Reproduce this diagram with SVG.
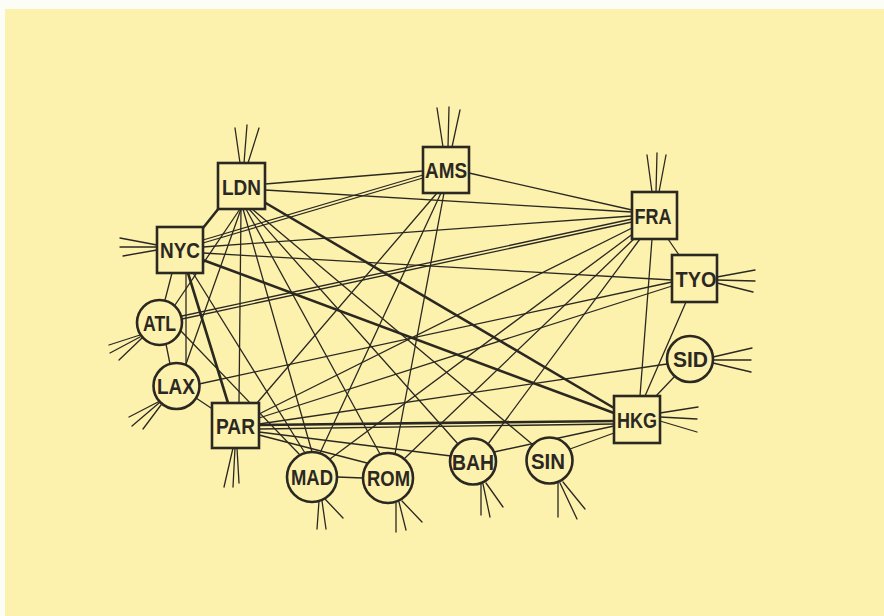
<svg xmlns="http://www.w3.org/2000/svg" width="884" height="616" viewBox="0 0 884 616">
<style>
.e{stroke:#2b2822;stroke-width:1.3;fill:none;stroke-linecap:round}
.t{stroke:#2b2822;stroke-width:2.6;fill:none;stroke-linecap:round}
.s{stroke:#2b2822;stroke-width:1.3;fill:none;stroke-linecap:round}
.n{fill:#fcf1ad;stroke:#2b2822;stroke-width:2.6}
.l{font-family:"Liberation Sans",Arial,Helvetica,sans-serif;font-weight:bold;font-size:22px;fill:#2b2822;text-anchor:middle}
</style>
<rect x="0" y="0" width="884" height="616" fill="#fdfdf8"/>
<rect x="5" y="9" width="879" height="607" fill="#fcf1ad"/>
<g id="connectors">
<line class="e" x1="265" y1="184" x2="423" y2="171"/>
<line class="e" x1="265" y1="190" x2="632" y2="212"/>
<line class="t" x1="219" y1="208" x2="203" y2="228"/>
<line class="e" x1="240" y1="209" x2="175" y2="305"/>
<line class="e" x1="241" y1="209" x2="186" y2="364"/>
<line class="e" x1="241" y1="209" x2="239" y2="403"/>
<line class="e" x1="243" y1="209" x2="312" y2="452"/>
<line class="e" x1="246" y1="209" x2="380" y2="454"/>
<line class="e" x1="249" y1="209" x2="458" y2="444"/>
<line class="e" x1="252" y1="209" x2="532" y2="444"/>
<line class="t" x1="264" y1="202" x2="614" y2="408"/>
<line class="e" x1="203" y1="240" x2="423" y2="175"/>
<line class="e" x1="203" y1="243" x2="423" y2="178"/>
<line class="e" x1="203" y1="247" x2="632" y2="216"/>
<line class="e" x1="203" y1="253" x2="672" y2="280"/>
<line class="t" x1="203" y1="260" x2="614" y2="413"/>
<line class="e" x1="172" y1="273" x2="165" y2="300"/>
<line class="e" x1="186" y1="273" x2="186" y2="363"/>
<line class="t" x1="188" y1="273" x2="228" y2="403"/>
<line class="e" x1="193" y1="273" x2="305" y2="453"/>
<line class="e" x1="469" y1="173" x2="632" y2="210"/>
<line class="e" x1="437" y1="193" x2="257" y2="403"/>
<line class="e" x1="441" y1="193" x2="320" y2="453"/>
<line class="e" x1="444" y1="193" x2="395" y2="454"/>
<line class="e" x1="632" y1="219" x2="182" y2="316"/>
<line class="e" x1="632" y1="222" x2="182" y2="319"/>
<line class="e" x1="668" y1="239" x2="679" y2="255"/>
<line class="e" x1="652" y1="239" x2="640" y2="396"/>
<line class="e" x1="632" y1="228" x2="259" y2="414"/>
<line class="e" x1="634" y1="233" x2="330" y2="459"/>
<line class="e" x1="637" y1="236" x2="405" y2="458"/>
<line class="e" x1="640" y1="239" x2="488" y2="444"/>
<line class="e" x1="672" y1="282" x2="199" y2="384"/>
<line class="e" x1="672" y1="286" x2="259" y2="418"/>
<line class="e" x1="686" y1="302" x2="645" y2="396"/>
<line class="e" x1="675" y1="376" x2="656" y2="396"/>
<line class="e" x1="667" y1="364" x2="259" y2="424"/>
<line class="t" x1="259" y1="425" x2="614" y2="421"/>
<line class="e" x1="259" y1="429" x2="614" y2="424"/>
<line class="e" x1="614" y1="426" x2="494" y2="452"/>
<line class="e" x1="614" y1="433" x2="570" y2="449"/>
<line class="e" x1="166" y1="344" x2="170" y2="364"/>
<line class="e" x1="180" y1="330" x2="300" y2="455"/>
<line class="e" x1="196" y1="398" x2="214" y2="410"/>
<line class="e" x1="259" y1="432" x2="451" y2="456"/>
<line class="e" x1="259" y1="435" x2="367" y2="463"/>
<line class="e" x1="337" y1="477" x2="363" y2="478"/>
</g>
<g id="stubs">
<path class="s" d="M240 163L235 128M244 163L247 125M248 163L259 128"/>
<path class="s" d="M157 245L120 238M157 247L120 247M157 250L123 256"/>
<path class="s" d="M443 147L437 108M448 147L449 107M452 147L460 110"/>
<path class="s" d="M652 192L647 155M656 192L657 153M659 192L666 155"/>
<path class="s" d="M717 277L755 270M717 280L755 281M717 283L753 292"/>
<path class="s" d="M713 357L752 348M713 360L751 360M713 363L751 372"/>
<path class="s" d="M660 413L698 407M660 417L697 419M660 421L697 432"/>
<path class="s" d="M140 335L109 345M140 337L110 353M142 338L119 360"/>
<path class="s" d="M158 402L129 417M159 403L132 426M161 405L143 429"/>
<path class="s" d="M233 448L224 487M235 448L233 487M237 448L239 483"/>
<path class="s" d="M319 501L317 529M322 501L326 529M325 499L343 518"/>
<path class="s" d="M396 503L396 532M399 502L406 530M402 501L422 522"/>
<path class="s" d="M481 484L481 515M483 484L490 517M486 483L503 507"/>
<path class="s" d="M558 483L558 517M560 483L577 519M563 482L585 509"/>
</g>
<g id="LDN"><rect class="n" x="218" y="163" width="47" height="46"/><text class="l" x="241.5" y="194.5" textLength="39" lengthAdjust="spacingAndGlyphs">LDN</text></g>
<g id="NYC"><rect class="n" x="157" y="227" width="46" height="46"/><text class="l" x="180" y="258" textLength="40" lengthAdjust="spacingAndGlyphs">NYC</text></g>
<g id="AMS"><rect class="n" x="423" y="147" width="46" height="46"/><text class="l" x="446" y="178" textLength="42" lengthAdjust="spacingAndGlyphs">AMS</text></g>
<g id="FRA"><rect class="n" x="632" y="192" width="45" height="47"/><text class="l" x="653" y="223.5" textLength="37" lengthAdjust="spacingAndGlyphs">FRA</text></g>
<g id="TYO"><rect class="n" x="672" y="255" width="45" height="47"/><text class="l" x="696" y="287" textLength="41" lengthAdjust="spacingAndGlyphs">TYO</text></g>
<g id="SID"><circle class="n" cx="690" cy="359" r="23"/><text class="l" x="690.5" y="367" textLength="35" lengthAdjust="spacingAndGlyphs">SID</text></g>
<g id="HKG"><rect class="n" x="614" y="396" width="46" height="47"/><text class="l" x="637" y="428" textLength="40" lengthAdjust="spacingAndGlyphs">HKG</text></g>
<g id="ATL"><circle class="n" cx="159.5" cy="322.5" r="22.5"/><text class="l" x="159.5" y="331" textLength="33" lengthAdjust="spacingAndGlyphs">ATL</text></g>
<g id="LAX"><circle class="n" cx="176.5" cy="386" r="23"/><text class="l" x="176" y="394" textLength="38" lengthAdjust="spacingAndGlyphs">LAX</text></g>
<g id="PAR"><rect class="n" x="212" y="403" width="47" height="45"/><text class="l" x="235.5" y="434" textLength="39" lengthAdjust="spacingAndGlyphs">PAR</text></g>
<g id="MAD"><circle class="n" cx="312" cy="477" r="25"/><text class="l" x="312" y="485" textLength="42" lengthAdjust="spacingAndGlyphs">MAD</text></g>
<g id="ROM"><circle class="n" cx="388" cy="478" r="25"/><text class="l" x="388.5" y="486" textLength="43" lengthAdjust="spacingAndGlyphs">ROM</text></g>
<g id="BAH"><circle class="n" cx="473" cy="461.5" r="23"/><text class="l" x="473" y="469.5" textLength="42" lengthAdjust="spacingAndGlyphs">BAH</text></g>
<g id="SIN"><circle class="n" cx="549.5" cy="460.5" r="23"/><text class="l" x="548" y="468.5" textLength="34" lengthAdjust="spacingAndGlyphs">SIN</text></g>
</svg>
